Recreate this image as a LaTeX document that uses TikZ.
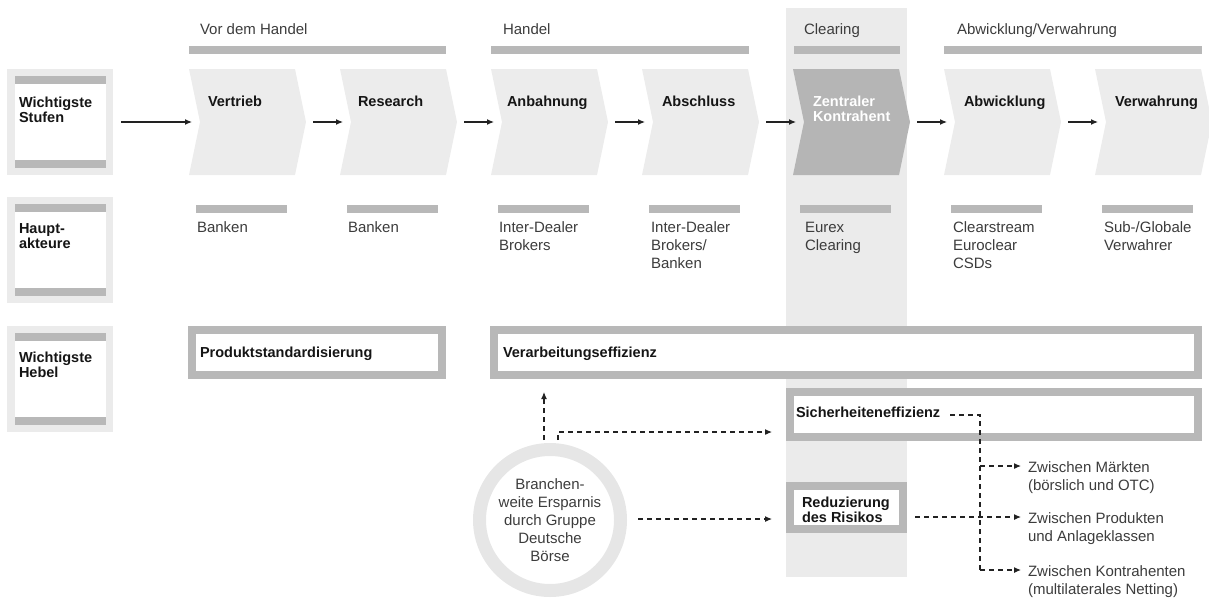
\documentclass[tikz,border=0pt]{standalone}
\usepackage{fontspec}
\setmainfont{Liberation Sans}
\usetikzlibrary{arrows.meta,calc}
\definecolor{chevc}{HTML}{ECECEC}
\definecolor{barc}{HTML}{B8B8B8}
\definecolor{boxbg}{HTML}{EBEBEB}
\definecolor{ringc}{HTML}{E6E6E6}
\definecolor{darkc}{HTML}{B5B5B5}
\definecolor{txtlight}{HTML}{3C3C3C}
\definecolor{txtdark}{HTML}{151515}
\definecolor{linec}{HTML}{222222}
\newcommand\mlines[1]{\begin{tabular}[t]{@{}l@{}}#1\end{tabular}}
\begin{document}
\begin{tikzpicture}[x=1pt,y=-1pt,
  lt/.style={font=\fontsize{15}{18}\selectfont, text=txtlight, inner sep=0, outer sep=0, anchor=base west},
  bt/.style={font=\fontsize{14.5}{15}\selectfont\bfseries, text=txtdark, inner sep=0, outer sep=0, anchor=base west},
  chev/.style={anchor=north west, minimum width=117pt, minimum height=106pt, inner sep=0, outer sep=0,
    path picture={\fill[#1] (path picture bounding box.north west) -- ([xshift=-11pt]path picture bounding box.north east) -- (path picture bounding box.east) -- ([xshift=-11pt]path picture bounding box.south east) -- (path picture bounding box.south west) -- ([xshift=11pt]path picture bounding box.west) -- cycle;}},
  lbox/.style={anchor=north west, minimum width=106pt, minimum height=106pt, inner sep=0, outer sep=0, fill=boxbg},
  hbox/.style={draw=barc, fill=white, line width=8pt, inner sep=0, outer sep=4pt},
  arr/.style={draw=linec, line width=1.2pt, -{Latex[length=7pt,width=6pt]}},
  dsh/.style={draw=linec, line width=1.1pt, dash pattern=on 5pt off 4pt},
  dsharr/.style={dsh, -{Latex[length=7pt,width=6pt]}},
]
\useasboundingbox (0,0) rectangle (1209,602);

% clearing column
\fill[boxbg] (786,8) rectangle (907,577);

% group bars and labels
\fill[barc] (189,46) rectangle (446,54);
\fill[barc] (491,46) rectangle (749,54);
\fill[barc] (794,46) rectangle (900,54);
\fill[barc] (944,46) rectangle (1202,54);
\node[lt] (g1) at (200,35) {Vor dem Handel};
\node[lt] (g2) at (503,35) {Handel};
\node[lt] (g3) at (804,35) {Clearing};
\node[lt] (g4) at (957,35) {Abwicklung/Verwahrung};

% left label boxes
\node[lbox] (lb1) at (7,69) {};
\node[lbox] (lb2) at (7,197) {};
\node[lbox] (lb3) at (7,326) {};
\foreach \y in {69,197,326}{
  \fill[white] (15,\y+7) rectangle (106,\y+99);
  \fill[barc] (15,\y+7) rectangle (106,\y+15);
  \fill[barc] (15,\y+91) rectangle (106,\y+99);
}
\node[bt] (l1) at (19,107) {\mlines{Wichtigste\\Stufen}};
\node[bt] (l2) at (19,233) {\mlines{Haupt-\\akteure}};
\node[bt] (l3) at (19,362) {\mlines{Wichtigste\\Hebel}};

% chevrons
\node[chev=chevc] (c1) at (189,69) {};
\node[chev=chevc] (c2) at (340,69) {};
\node[chev=chevc] (c3) at (491,69) {};
\node[chev=chevc] (c4) at (642,69) {};
\node[chev=darkc] (c5) at (793,69) {};
\node[chev=chevc] (c6) at (944,69) {};
\node[chev=chevc] (c7) at (1095,69) {};
\node[bt] (s1) at (208,106) {Vertrieb};
\node[bt] (s2) at (358,106) {Research};
\node[bt] (s3) at (507,106) {Anbahnung};
\node[bt] (s4) at (662,106) {Abschluss};
\node[bt, text=white] (s5) at (813,106) {\mlines{Zentraler\\Kontrahent}};
\node[bt] (s6) at (964,106) {Abwicklung};
\node[bt] (s7) at (1115,106) {Verwahrung};

\draw[arr, shorten <=8pt, shorten >=-3pt] (lb1.east) -- (c1.west);
\foreach \a/\b in {c1/c2,c2/c3,c3/c4,c4/c5,c5/c6,c6/c7}{
  \draw[arr, shorten <=7pt, shorten >=-3pt] (\a.east) -- (\b.west);
}

% actor bars and texts
\foreach \x in {196,347,498,649,800,951,1102}{
  \fill[barc] (\x,205) rectangle (\x+91,213);
}
\node[lt] (a1) at (197,232) {Banken};
\node[lt] (a2) at (348,232) {Banken};
\node[lt] (a3) at (499,232) {\mlines{Inter-Dealer\\Brokers}};
\node[lt] (a4) at (651,232) {\mlines{Inter-Dealer\\Brokers/\\Banken}};
\node[lt] (a5) at (805,232) {\mlines{Eurex\\Clearing}};
\node[lt] (a6) at (953,232) {\mlines{Clearstream\\Euroclear\\CSDs}};
\node[lt] (a7) at (1104,232) {\mlines{Sub-/Globale\\Verwahrer}};

% lever boxes
\node[hbox, minimum width=250pt, minimum height=45pt] (prod) at (317,352.5) {};
\node[hbox, minimum width=704pt, minimum height=45pt] (verb) at (846,352.5) {};
\node[hbox, minimum width=408pt, minimum height=45pt] (sich) at (994,414.5) {};
\node[hbox, minimum width=113pt, minimum height=43pt] (redu) at (846.5,507.5) {};
\node[bt] (h1) at (200,357) {Produktstandardisierung};
\node[bt] (h2) at (503,357) {Verarbeitungseffizienz};
\node[bt] (h3) at (796,417) {Sicherheiteneffizienz};
\node[bt] (h4) at (802,507) {\mlines{Reduzierung\\des Risikos}};

% circle
\node[circle, draw=ringc, line width=13pt, minimum size=141pt, inner sep=0, outer sep=6.5pt,
  font=\fontsize{15}{18}\selectfont, text=txtlight, align=center] (circ) at (550,520)
  {Branchen-\\weite Ersparnis\\durch Gruppe\\Deutsche\\Börse};

% dashed arrows from circle
\coordinate (u1) at ([xshift=-6pt,yshift=3pt]circ.north);
\coordinate (u2) at ([xshift=8pt,yshift=3pt]circ.north);
\draw[dsharr, shorten >=13pt] (u1) -- (u1 |- verb.south);
\draw[dsharr, shorten >=14pt] (u2) |- ([yshift=-17.5pt]sich.west);
\draw[dsharr, shorten <=11pt, shorten >=14pt] ([yshift=1pt]circ.east) -- ([yshift=1pt]circ.east -| redu.west);

% right side branches
\node[lt] (z1) at (1028,472) {\mlines{Zwischen Märkten\\(börslich und OTC)}};
\node[lt] (z2) at (1028,523) {\mlines{Zwischen Produkten\\und Anlageklassen}};
\node[lt] (z3) at (1028,576) {\mlines{Zwischen Kontrahenten\\(multilaterales Netting)}};
\coordinate (j) at (980,415);
\coordinate (b1) at (980,466);
\coordinate (b2) at (980,517);
\coordinate (b3) at (980,570);
\draw[dsh] ([xshift=-30pt]j) -- (j) -- (b3);
\draw[dsharr, shorten >=7pt] (b1) -- (b1 -| z1.west);
\draw[dsharr, shorten <=8pt, shorten >=7pt] (redu.east |- b2) -- (b2 -| z2.west);
\draw[dsharr, shorten >=7pt] (b3) -- (b3 -| z3.west);
\end{tikzpicture}
\end{document}
